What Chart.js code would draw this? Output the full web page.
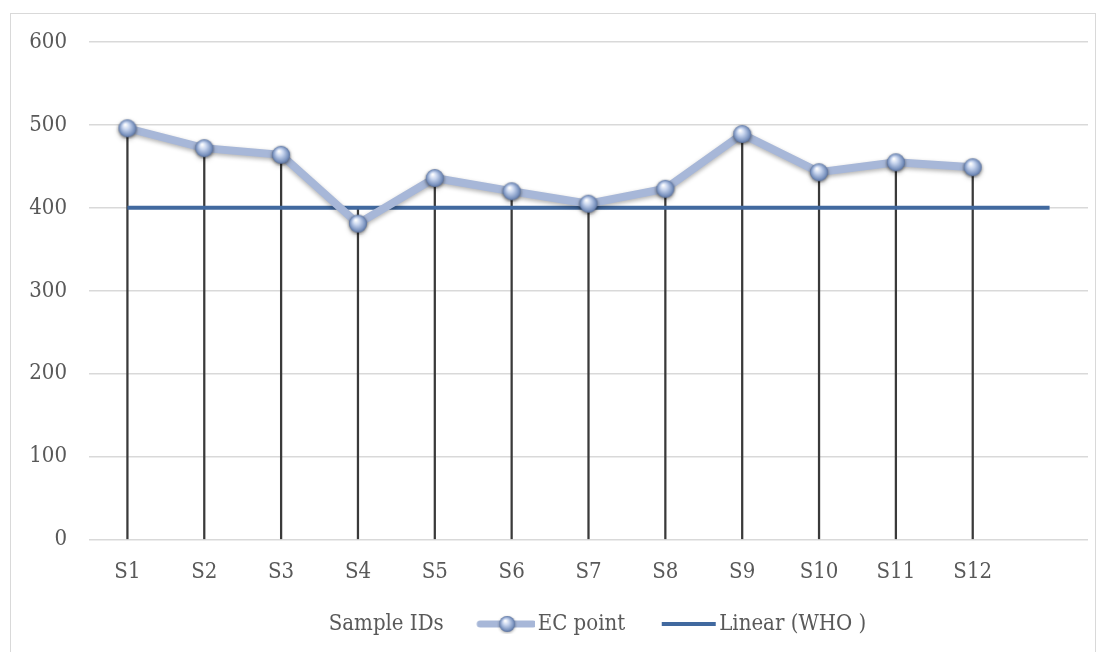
<!DOCTYPE html>
<html>
<head>
<meta charset="utf-8">
<script src="https://cdn.jsdelivr.net/npm/chart.js@4.4.0/dist/chart.umd.min.js"></script>
<style>
  html, body { margin: 0; padding: 0; background: #fff; }
  #wrap { position: relative; width: 1106px; height: 652px; }
  #frame { position: absolute; left: 10px; top: 13px; width: 1084px; height: 660px; border: 1px solid #d9d9d9; }
  canvas { position: absolute; left: 0; top: 0; }
</style>
</head>
<body>
<div id="wrap">
  <div id="frame"></div>
  <canvas id="chart" width="1106" height="652"></canvas>
</div>
<script>
// categories (last one is blank, the WHO line runs into it)
const sampleIds = ['S1', 'S2', 'S3', 'S4', 'S5', 'S6', 'S7', 'S8', 'S9', 'S10', 'S11', 'S12', ''];
const ecValues = [496, 472, 464, 381, 436, 420, 405, 423, 489, 443, 455, 449, null];
const whoValues = [400, 400, 400, 400, 400, 400, 400, 400, 400, 400, 400, 400, 400];
const yTicks = [0, 100, 200, 300, 400, 500, 600];

// drop lines go from the axis up to the highest series at each category
const dropValues = ecValues.map((v, i) => v === null ? null : Math.max(v, whoValues[i]));

const FONT = '"DejaVu Serif Condensed", "DejaVu Serif", serif';
const FSIZE = 22;
const lineColor = '#a7b7d8';
const whoColor = '#41699f';

// glossy ball marker
function makeBall(size) {
  const c = document.createElement('canvas');
  c.width = size + 4; c.height = size + 4;
  const g = c.getContext('2d');
  const r = size / 2, cx = c.width / 2, cy = c.height / 2;
  g.shadowColor = 'rgba(0,0,0,0.35)';
  g.shadowBlur = 3;
  g.shadowOffsetY = 1;
  const grad = g.createRadialGradient(cx - r * 0.25, cy - r * 0.4, r * 0.05, cx, cy, r);
  grad.addColorStop(0, '#ffffff');
  grad.addColorStop(0.35, '#c9d6ef');
  grad.addColorStop(0.8, '#7f97c2');
  grad.addColorStop(1, '#5b73a0');
  g.fillStyle = grad;
  g.beginPath(); g.arc(cx, cy, r, 0, Math.PI * 2); g.fill();
  return c;
}

// legend swatches: 64px wide, the mark sits a little right of centre
function legendEC() {
  const c = document.createElement('canvas');
  c.width = 64; c.height = 22;
  const g = c.getContext('2d');
  g.strokeStyle = lineColor; g.lineWidth = 7; g.lineCap = 'round';
  g.beginPath(); g.moveTo(9, 11); g.lineTo(62, 11); g.stroke();
  g.drawImage(makeBall(16), 36 - 10, 11 - 10);
  return c;
}
function legendWHO() {
  const c = document.createElement('canvas');
  c.width = 64; c.height = 22;
  const g = c.getContext('2d');
  g.strokeStyle = whoColor; g.lineWidth = 4;
  g.beginPath(); g.moveTo(9, 11); g.lineTo(63, 11); g.stroke();
  return c;
}
function legendBlank() {
  const c = document.createElement('canvas');
  c.width = 64; c.height = 22;
  return c;
}

const ball = makeBall(18);

const shadowPlugin = {
  id: 'lineShadow',
  beforeDatasetDraw(chart, args) {
    if (args.index === 1) {
      const ctx = chart.ctx;
      ctx.save();
      ctx.shadowColor = 'rgba(0,0,0,0.3)';
      ctx.shadowBlur = 4;
      ctx.shadowOffsetY = 2;
    }
  },
  afterDatasetDraw(chart, args) {
    if (args.index === 1) chart.ctx.restore();
  }
};

// the legend sits a bit right of the canvas centre
const legendNudge = {
  id: 'legendNudge',
  afterLayout(chart) {
    chart.legend.left += 24;
    chart.legend.right += 24;
    chart.legend.top -= 19;
    chart.legend.bottom -= 19;
  }
};

const ctx = document.getElementById('chart').getContext('2d');
new Chart(ctx, {
  data: {
    labels: sampleIds,
    datasets: [
      {
        type: 'bar',
        label: 'Sample IDs',
        data: dropValues,
        backgroundColor: '#3a3a3a',
        barThickness: 1.6,
        order: 3
      },
      {
        type: 'line',
        label: 'EC point',
        data: ecValues,
        borderColor: lineColor,
        borderWidth: 8,
        pointStyle: ball,
        pointRadius: 10,
        tension: 0,
        order: 1
      },
      {
        type: 'line',
        label: 'Linear (WHO )',
        data: whoValues,
        borderColor: whoColor,
        borderWidth: 4,
        pointRadius: 0,
        tension: 0,
        order: 2
      }
    ]
  },
  plugins: [shadowPlugin, legendNudge],
  options: {
    responsive: false,
    animation: false,
    layout: { padding: { top: 42, right: 17, bottom: -12, left: 0 } },
    scales: {
      x: {
        offset: true,
        grid: { display: false },
        border: { display: false },
        ticks: { color: '#595959', font: { family: FONT, size: FSIZE }, padding: 11, maxRotation: 0 }
      },
      y: {
        min: 0, max: 600,
        afterFit(scale) { scale.width = 89; },
        afterBuildTicks(scale) { scale.ticks = yTicks.map(v => ({ value: v })); },
        grid: { color: '#d9d9d9', lineWidth: 1.5, drawTicks: false },
        border: { display: false },
        ticks: { color: '#595959', font: { family: FONT, size: FSIZE }, padding: 22 }
      }
    },
    plugins: {
      tooltip: { enabled: false },
      legend: {
        position: 'bottom',
        labels: {
          usePointStyle: true,
          pointStyleWidth: 47,
          padding: 36,
          color: '#595959',
          font: { family: FONT, size: FSIZE },
          generateLabels() {
            return [
              { text: 'Sample IDs', pointStyle: legendBlank(), fontColor: '#595959', lineWidth: 0, strokeStyle: 'transparent', fillStyle: 'transparent', datasetIndex: 0 },
              { text: 'EC point', pointStyle: legendEC(), fontColor: '#595959', lineWidth: 0, strokeStyle: 'transparent', fillStyle: 'transparent', datasetIndex: 1 },
              { text: 'Linear (WHO )', pointStyle: legendWHO(), fontColor: '#595959', lineWidth: 0, strokeStyle: 'transparent', fillStyle: 'transparent', datasetIndex: 2 }
            ];
          }
        }
      }
    }
  }
});
</script>
</body>
</html>
